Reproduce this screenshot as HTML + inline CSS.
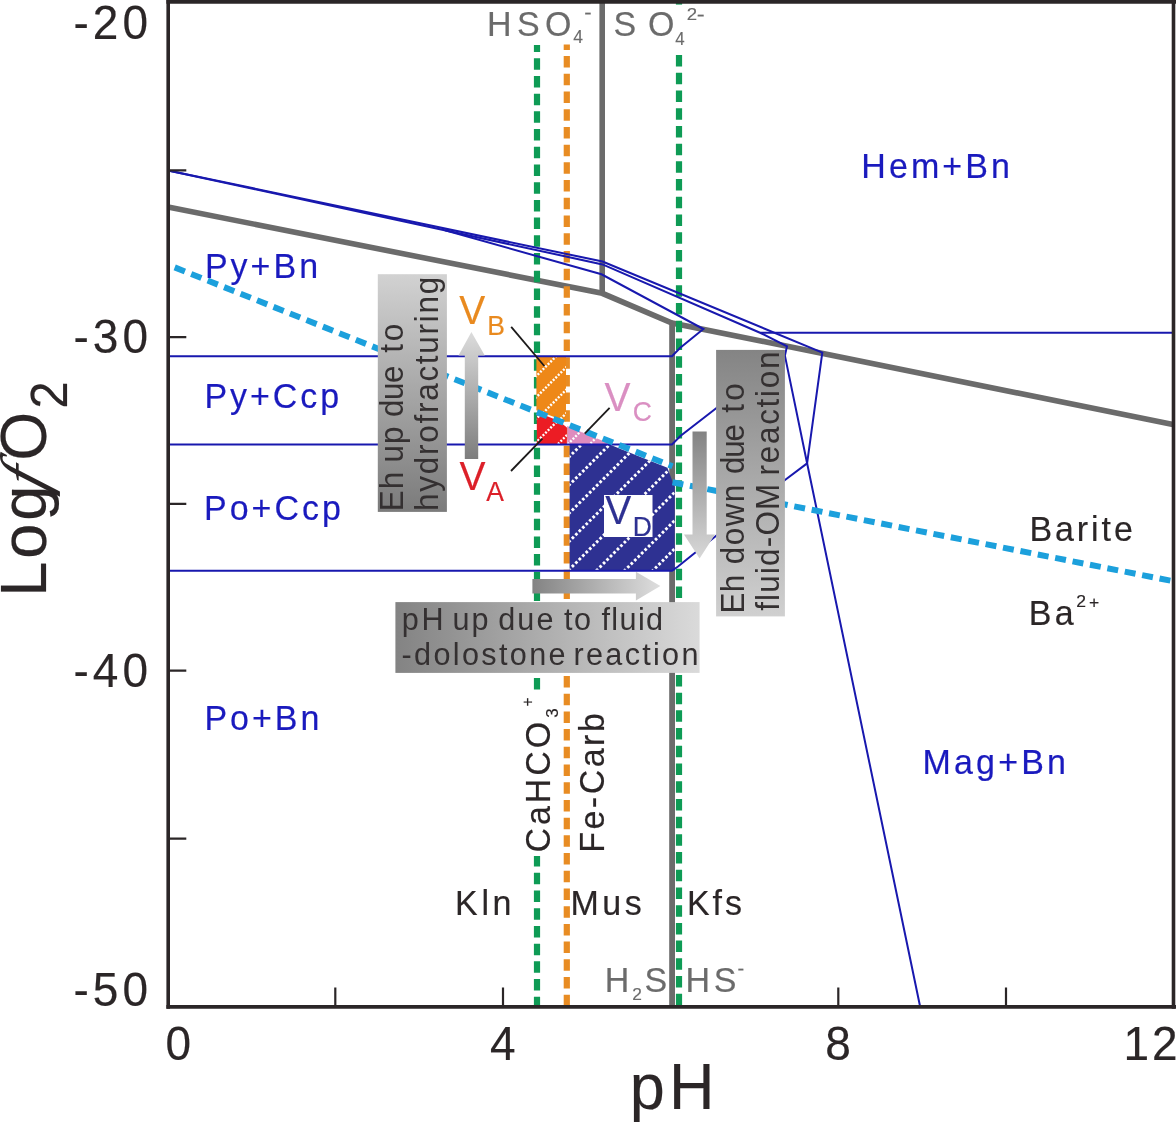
<!DOCTYPE html>
<html lang="en">
<head>
<meta charset="utf-8">
<title>Log fO2 - pH diagram</title>
<style>
  html, body { margin: 0; padding: 0; background: #ffffff; }
  body { width: 1176px; height: 1123px; overflow: hidden; }
  svg { display: block; }
  text { font-family: "Liberation Sans", Arial, Helvetica, sans-serif; font-kerning: none; stroke-width: 0.18px; stroke-linejoin: round; }
  text.sf { font-family: "Liberation Serif", "Times New Roman", serif; stroke: none; }
  .ax { fill: #2b2627; stroke: #2b2627; }
  .bl { fill: #1a1abe; stroke: #1a1abe; }
  .gy { fill: #6b6b6b; stroke: #6b6b6b; }
  .bx { fill: #343031; stroke: none; }
  .vb { fill: #e98a1f; stroke: #e98a1f; }
  .va { fill: #dc2029; stroke: #dc2029; }
  .vc { fill: #da8fc2; stroke: #da8fc2; }
  .vd { fill: #2e3192; stroke: #2e3192; }
  .bline { fill: none; stroke: #1818ae; stroke-width: 2; stroke-linejoin: miter; }
  .gline { fill: none; stroke: #6b6b6b; stroke-width: 5.6; stroke-linejoin: miter; }
  .hs { stroke: #ffffff; stroke-width: 2.4; stroke-dasharray: 2 1.6; fill: none; }
  .hb { stroke: #ffffff; stroke-width: 2.9; stroke-dasharray: 2.7 2.2; fill: none; }
</style>
</head>
<body>
<svg width="1176" height="1123" viewBox="0 0 1176 1123">
  <defs>
    <linearGradient id="gUpBox" x1="0" y1="0" x2="0" y2="1">
      <stop offset="0" stop-color="#d2d2d2"/><stop offset="1" stop-color="#7b7b7b"/>
    </linearGradient>
    <linearGradient id="gUpArr" x1="0" y1="0" x2="0" y2="1">
      <stop offset="0" stop-color="#dcdcdc"/><stop offset="1" stop-color="#7d7d7d"/>
    </linearGradient>
    <linearGradient id="gDownBox" x1="0" y1="0" x2="0" y2="1">
      <stop offset="0" stop-color="#848484"/><stop offset="1" stop-color="#d0d0d0"/>
    </linearGradient>
    <linearGradient id="gDownArr" x1="0" y1="0" x2="0" y2="1">
      <stop offset="0" stop-color="#838383"/><stop offset="1" stop-color="#d8d8d8"/>
    </linearGradient>
    <linearGradient id="gPhBox" x1="0" y1="0" x2="1" y2="0">
      <stop offset="0" stop-color="#838383"/><stop offset="1" stop-color="#dadada"/>
    </linearGradient>
    <linearGradient id="gPhArr" x1="0" y1="0" x2="1" y2="0">
      <stop offset="0" stop-color="#838383"/><stop offset="1" stop-color="#dedede"/>
    </linearGradient>
    <clipPath id="cOrange"><path d="M536.4 356.4 L566 356.4 L566 421.6 L536.4 410.2 Z"/></clipPath>
    <clipPath id="cRed"><path d="M536.8 413.6 Q556 417.5 566.9 427.5 L566.9 444.4 L536.8 444.4 Z"/></clipPath>
    <clipPath id="cPink"><path d="M567.2 426 L611.5 444.4 L567.2 444.4 Z"/></clipPath>
    <clipPath id="cBlue"><path d="M569.6 444.4 L609.5 444.4 L667.4 467.7 L674.7 487.2 L674.7 570.6 L569.6 570.6 Z"/></clipPath>
  </defs>

  <rect x="0" y="0" width="1176" height="1123" fill="#ffffff"/>

  <!-- grey thick boundaries (sulfur species) -->
  <g id="greylines">
    <path class="gline" d="M168 207 L602.2 293.3 L672 323 L1173 424.4"/>
    <path class="gline" d="M602.2 2 L602.2 293.3"/>
    <path class="gline" d="M672.1 321 L672.1 1006" style="stroke-width:5.8"/>
  </g>

  <!-- vertical dashed lines (below the coloured fields) -->
  <g id="vdash" fill="none" stroke-width="6.2" stroke-dasharray="11.5 6.21">
    <path d="M537 44.9 L537 689.8" stroke="#0e9b55" stroke-dashoffset="4.4"/>
    <path d="M537 856.1 L537 1006" stroke="#0e9b55" stroke-dashoffset="1"/>
    <path d="M566.8 44.5 L566.8 1006" stroke="#e88c23" stroke-dashoffset="6.1"/>
    <path d="M679 55.1 L679 1006" stroke="#0e9b55"/>
    <path d="M679 2.5 L679 4.6" stroke="#0e9b55" stroke-dasharray="none"/>
  </g>

  <!-- coloured fields with dotted hatching -->
  <g id="fields">
    <path d="M536.4 356.4 L566 356.4 L566 421.6 L536.4 410.2 Z" fill="#ee8818"/>
    <path d="M536.8 413.6 Q556 417.5 566.9 427.5 L566.9 444.4 L536.8 444.4 Z" fill="#ec1c24"/>
    <path d="M567.2 426 L611.5 444.4 L567.2 444.4 Z" fill="#de8cbe"/>
    <path d="M569.6 444.4 L609.5 444.4 L667.4 467.7 L674.7 487.2 L674.7 570.6 L569.6 570.6 Z" fill="#2e3192"/>
    <g clip-path="url(#cOrange)"><path class="hs" d="M530.0 382.4 L575.0 337.4 M530.0 403.5 L575.0 358.5 M530.0 426.0 L575.0 381.0 M530.0 449.5 L575.0 404.5"/></g>
    <g clip-path="url(#cRed)"><path class="hs" d="M530.0 425.0 L575.0 380.0 M530.0 448.5 L575.0 403.5 M530.0 472.0 L575.0 427.0"/></g>
    <g clip-path="url(#cPink)"><path class="hs" d="M560.0 452.0 L620.0 392.0 M560.0 474.0 L620.0 414.0 M560.0 496.0 L620.0 436.0"/></g>
    <g clip-path="url(#cBlue)"><path class="hb" d="M565.0 432.8 L680.0 317.8 M565.0 461.0 L680.0 346.0 M565.0 489.2 L680.0 374.2 M565.0 517.4 L680.0 402.4 M565.0 545.6 L680.0 430.6 M565.0 573.8 L680.0 458.8 M565.0 602.0 L680.0 487.0 M565.0 630.2 L680.0 515.2 M565.0 658.4 L680.0 543.4 M565.0 686.6 L680.0 571.6"/></g>
  </g>

  <!-- thin blue phase boundaries -->
  <g id="bluelines">
    <path class="bline" d="M168 170.4 L602.5 261.5 L822.3 352.6 L807.1 463.4"/>
    <path class="bline" d="M168 170.4 L602.5 264.4 L760.6 333 L787 346.4 L784.9 355.6 L807.1 463.2 L920 1006"/>
    <path class="bline" d="M445 230.3 L601.5 274.3 L703.4 329 L680 348 L672 356.2 L168 356.2"/>
    <path class="bline" d="M760.6 332.7 L1172 332.7"/>
    <path class="bline" d="M168 444.4 L672 444.4 L680.4 436 L716.5 408 L784.9 355.6"/>
    <path class="bline" d="M168 570.7 L672 570.7 L678 566.5 L716.5 535.5 L785 480 L807.1 463.4"/>
  </g>

  <!-- barite saturation (cyan dashed) -->
  <g fill="none" stroke="#1ca0dc" stroke-width="6" stroke-dasharray="11 6.73">
    <path d="M174.7 267.4 L672.5 466.3"/>
    <path d="M672.5 482.3 L1173 581.2"/>
  </g>

  <!-- annotation boxes and arrows -->
  <g id="boxes">
    <rect x="377.8" y="274.2" width="69.1" height="237.7" fill="url(#gUpBox)"/>
    <path d="M464.8 459 L464.8 355.4 L458.5 355.4 L471.4 332 L484.8 355.4 L478.2 355.4 L478.2 459 Z" fill="url(#gUpArr)"/>
    <rect x="716.1" y="349.9" width="68.8" height="266.5" fill="url(#gDownBox)"/>
    <path d="M692.5 431.5 L706.7 431.5 L706.7 534.6 L715 534.6 L699.6 558.6 L684 534.6 L692.5 534.6 Z" fill="url(#gDownArr)"/>
    <rect x="395.4" y="602.1" width="304.2" height="70.8" fill="url(#gPhBox)"/>
    <path d="M532.4 578.9 L635.9 578.9 L635.9 571.7 L660.4 586.1 L635.9 600.6 L635.9 593.4 L532.4 593.4 Z" fill="url(#gPhArr)"/>
  </g>

  <!-- leader lines -->
  <g stroke="#1c1a1a" stroke-width="1.8" fill="none">
    <path d="M511.2 326.8 L544.3 366"/>
    <path d="M511 471 L542.4 438.6"/>
    <path d="M609.6 407.9 L584.7 433.7"/>
  </g>

  <!-- VD white label -->
  <rect x="604" y="495" width="48.5" height="42" fill="#ffffff"/>

  <!-- text -->
  <g id="texts">
    <text class="ax" transform="translate(73.46 38.80) scale(1 1.040)" font-size="46.00" style="letter-spacing:4.08px">-20</text>
    <text class="ax" transform="translate(73.46 352.50) scale(1 1.040)" font-size="46.00" style="letter-spacing:4.08px">-30</text>
    <text class="ax" transform="translate(73.46 686.80) scale(1 1.040)" font-size="46.00" style="letter-spacing:4.08px">-40</text>
    <text class="ax" transform="translate(73.46 1005.70) scale(1 1.040)" font-size="46.00" style="letter-spacing:4.08px">-50</text>
    <text class="ax" transform="translate(165.50 1060.20) scale(1 1.040)" font-size="46.00" style="letter-spacing:0.00px">0</text>
    <text class="ax" transform="translate(489.94 1060.20) scale(1 1.040)" font-size="46.00" style="letter-spacing:0.00px">4</text>
    <text class="ax" transform="translate(825.30 1060.20) scale(1 1.040)" font-size="46.00" style="letter-spacing:0.00px">8</text>
    <text class="ax" transform="translate(1123.60 1060.40) scale(1 1.040)" font-size="46.00" style="letter-spacing:2.85px">12</text>
    <text class="ax" transform="translate(629.84 1108.80) scale(1 1.040)" font-size="63.00" style="letter-spacing:4.06px">pH</text>
    <text class="ax" transform="translate(46.30 596.77) rotate(-90) scale(1 1.040)" font-size="63.00" style="letter-spacing:3.01px">Log</text>
    <text class="ax" transform="translate(46.30 460.68) rotate(-90) scale(1 1.040)" font-size="63.00" style="letter-spacing:0.00px">O</text>
    <text class="ax" transform="translate(67.20 408.79) rotate(-90) scale(1 1.040)" font-size="49.50" style="letter-spacing:0.00px">2</text>
    <text class="ax sf" transform="translate(46.3 492.7) rotate(-90) skewX(-18.6)" font-size="65.4" font-style="italic">f</text>
    <text class="bl" transform="translate(204.91 278.30) scale(1 1.040)" font-size="34.00" style="letter-spacing:3.02px">Py+Bn</text>
    <text class="bl" transform="translate(204.41 407.60) scale(1 1.040)" font-size="34.00" style="letter-spacing:2.96px">Py+Ccp</text>
    <text class="bl" transform="translate(204.01 519.80) scale(1 1.040)" font-size="34.00" style="letter-spacing:3.00px">Po+Ccp</text>
    <text class="bl" transform="translate(204.41 729.80) scale(1 1.040)" font-size="34.00" style="letter-spacing:2.99px">Po+Bn</text>
    <text class="bl" transform="translate(861.31 178.20) scale(1 1.040)" font-size="34.00" style="letter-spacing:3.07px">Hem+Bn</text>
    <text class="bl" transform="translate(922.51 773.60) scale(1 1.040)" font-size="34.00" style="letter-spacing:3.18px">Mag+Bn</text>
    <text class="ax" transform="translate(1029.41 541.10) scale(1 1.040)" font-size="34.00" style="letter-spacing:2.92px">Barite</text>
    <text class="ax" transform="translate(1028.81 624.70) scale(1 1.040)" font-size="34.00" style="letter-spacing:3.20px">Ba</text>
    <text class="ax" transform="translate(1076.22 607.20) scale(0.878 0.845)" font-size="20">2</text>
    <text class="ax" transform="translate(1088.95 607.51) scale(0.875 0.858)" font-size="20">+</text>
    <text class="ax" transform="translate(455.11 915.30) scale(1 1.040)" font-size="34.00" style="letter-spacing:3.63px">Kln</text>
    <text class="ax" transform="translate(570.51 915.30) scale(1 1.040)" font-size="34.00" style="letter-spacing:3.49px">Mus</text>
    <text class="ax" transform="translate(687.01 915.30) scale(1 1.040)" font-size="34.00" style="letter-spacing:2.90px">Kfs</text>
    <text class="gy" transform="translate(487.01 36.30) scale(1 1.040)" font-size="34.00" style="letter-spacing:5.37px">HSO</text>
    <text class="gy" transform="translate(573.20 43.30) scale(0.873 0.908)" font-size="20">4</text>
    <text class="gy" transform="translate(584.22 18.75) scale(1.106 0.960)" font-size="20">-</text>
    <text class="gy" transform="translate(613.46 36.30) scale(1 1.040)" font-size="34.00" style="letter-spacing:11.95px">SO</text>
    <text class="gy" transform="translate(675.21 45.00) scale(0.843 0.894)" font-size="20">4</text>
    <text class="gy" transform="translate(686.66 20.40) scale(0.933 0.831)" font-size="20">2</text>
    <text class="gy" transform="translate(696.64 20.75) scale(1.188 0.960)" font-size="20">-</text>
    <text class="gy" transform="translate(604.81 992.30) scale(1 1.040)" font-size="34.00" style="letter-spacing:0.00px">H</text>
    <text class="gy" transform="translate(632.13 999.60) scale(0.867 0.823)" font-size="20">2</text>
    <text class="gy" transform="translate(644.56 992.30) scale(1 1.040)" font-size="34.00" style="letter-spacing:0.00px">S</text>
    <text class="gy" transform="translate(685.41 992.30) scale(1 1.040)" font-size="34.00" style="letter-spacing:3.72px">HS</text>
    <text class="gy" transform="translate(737.51 974.85) scale(1.004 0.960)" font-size="20">-</text>
    <text class="ax" transform="translate(550.40 852.53) rotate(-90) scale(1 1.040)" font-size="34.00" style="letter-spacing:2.93px">CaHCO</text>
    <text class="ax" transform="translate(557.55 717.64) rotate(-90) scale(0.844 0.791)" font-size="20">3</text>
    <text class="ax" transform="translate(532.51 706.54) rotate(-90) scale(0.762 0.858)" font-size="20">+</text>
    <text class="ax" transform="translate(603.80 852.79) rotate(-90) scale(1 1.040)" font-size="34.00" style="letter-spacing:2.49px">Fe-Carb</text>
    <text class="bx" transform="translate(403.20 511.28) rotate(-90) scale(1 1.040)" font-size="31.40" style="letter-spacing:1.01px">Eh</text>
    <text class="bx" transform="translate(403.20 462.54) rotate(-90) scale(1 1.040)" font-size="31.40" style="letter-spacing:1.03px">up</text>
    <text class="bx" transform="translate(403.20 416.92) rotate(-90) scale(1 1.040)" font-size="31.40" style="letter-spacing:-0.44px">due</text>
    <text class="bx" transform="translate(403.20 352.68) rotate(-90) scale(1 1.040)" font-size="31.40" style="letter-spacing:2.61px">to</text>
    <text class="bx" transform="translate(438.00 510.88) rotate(-90) scale(1 1.040)" font-size="31.40" style="letter-spacing:1.77px">hydrofracturing</text>
    <text class="bx" transform="translate(744.00 613.58) rotate(-90) scale(1 1.040)" font-size="31.40" style="letter-spacing:0.51px">Eh</text>
    <text class="bx" transform="translate(744.00 564.32) rotate(-90) scale(1 1.040)" font-size="31.40" style="letter-spacing:1.53px">down</text>
    <text class="bx" transform="translate(744.00 474.12) rotate(-90) scale(1 1.040)" font-size="31.40" style="letter-spacing:-1.14px">due</text>
    <text class="bx" transform="translate(744.00 412.78) rotate(-90) scale(1 1.040)" font-size="31.40" style="letter-spacing:3.31px">to</text>
    <text class="bx" transform="translate(779.00 610.84) rotate(-90) scale(1 1.040)" font-size="31.40" style="letter-spacing:1.20px">fluid-OM</text>
    <text class="bx" transform="translate(779.00 475.49) rotate(-90) scale(1 1.040)" font-size="31.40" style="letter-spacing:1.76px">reaction</text>
    <text class="bx" transform="translate(401.63 629.80) scale(1 1.040)" font-size="30.60" style="letter-spacing:2.75px">pH</text>
    <text class="bx" transform="translate(452.61 629.80) scale(1 1.040)" font-size="30.60" style="letter-spacing:1.94px">up</text>
    <text class="bx" transform="translate(498.22 629.80) scale(1 1.040)" font-size="30.60" style="letter-spacing:2.14px">due</text>
    <text class="bx" transform="translate(564.04 629.80) scale(1 1.040)" font-size="30.60" style="letter-spacing:1.43px">to</text>
    <text class="bx" transform="translate(601.47 629.80) scale(1 1.040)" font-size="30.60" style="letter-spacing:1.37px">fluid</text>
    <text class="bx" transform="translate(401.54 664.50) scale(1 1.040)" font-size="30.60" style="letter-spacing:2.35px">-dolostone</text>
    <text class="bx" transform="translate(573.57 664.50) scale(1 1.040)" font-size="30.60" style="letter-spacing:2.29px">reaction</text>
    <text class="vb" transform="translate(459.23 324.00) scale(1 1.040)" font-size="39.00" style="letter-spacing:0.00px">V</text>
    <text class="vb" transform="translate(487.13 334.50) scale(1 1.040)" font-size="26.50" style="letter-spacing:0.00px">B</text>
    <text class="va" transform="translate(459.43 490.00) scale(1 1.040)" font-size="39.00" style="letter-spacing:0.00px">V</text>
    <text class="va" transform="translate(486.15 501.00) scale(1 1.040)" font-size="26.50" style="letter-spacing:0.00px">A</text>
    <text class="vc" transform="translate(604.53 410.60) scale(1 1.040)" font-size="39.00" style="letter-spacing:0.00px">V</text>
    <text class="vc" transform="translate(632.65 421.00) scale(1 1.040)" font-size="26.50" style="letter-spacing:0.00px">C</text>
    <text class="vd" transform="translate(605.23 524.40) scale(1 1.040)" font-size="39.00" style="letter-spacing:0.00px">V</text>
    <text class="vd" transform="translate(632.63 535.60) scale(1 1.040)" font-size="26.50" style="letter-spacing:0.00px">D</text>
  </g>

  <!-- frame and ticks -->
  <g id="frame" stroke="#2b2627" fill="none">
    <path d="M168.2 0 L168.2 1008.8" stroke-width="3.6"/>
    <path d="M166.4 1006.9 L1176 1006.9" stroke-width="3.8"/>
    <path d="M166.4 1.8 L1176 1.8" stroke-width="3.8"/>
    <path d="M1173.5 0 L1173.5 1008.8" stroke-width="3.6"/>
    <g stroke-width="2.2">
      <path d="M168 170.4 L186.3 170.4 M168 337.1 L186.3 337.1 M168 503.9 L186.3 503.9 M168 670.7 L186.3 670.7 M168 838.6 L186.3 838.6"/>
      <path d="M335.3 1006 L335.3 987.6 M503 1006 L503 987.6 M838.3 1006 L838.3 987.6 M1006 1006 L1006 987.6"/>
    </g>
  </g>
</svg>
</body>
</html>
